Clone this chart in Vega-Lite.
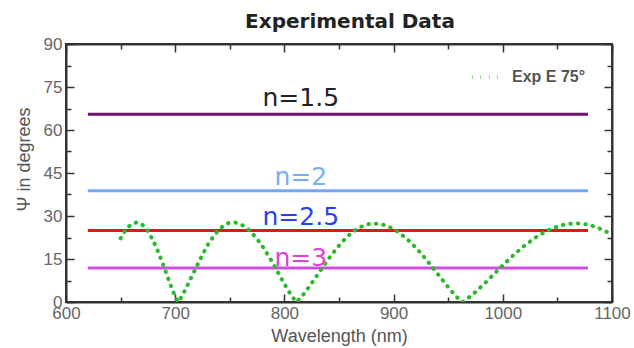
{
  "$schema": "https://vega.github.io/schema/vega-lite/v6.json",
  "width": 546,
  "height": 258,
  "autosize": "none",
  "padding": {"left": 66, "top": 44, "right": 22, "bottom": 46},
  "background": "white",
  "config": {
    "view": {"stroke": "#333", "strokeWidth": 2},
    "axis": {
      "domainColor": "#333", "domainWidth": 2, "tickColor": "#333", "tickWidth": 1.5,
      "grid": false, "labelFont": "Liberation Sans", "labelFontSize": 17, "labelColor": "#666",
      "titleFont": "Liberation Sans", "titleFontSize": 18, "titleFontWeight": "normal", "titleColor": "#555"
    }
  },
  "title": {"text": "Experimental Data", "font": "DejaVu Sans", "fontSize": 20, "fontWeight": "bold", "color": "#222", "anchor": "middle", "dx": 11, "dy": 29, "baseline": "bottom", "offset": 12},
  "datasets": {
    "hlines": [
      {"n": "n=1.5", "wl": 620, "psi": 65.5}, {"n": "n=1.5", "wl": 1078, "psi": 65.5},
      {"n": "n=2", "wl": 620, "psi": 38.8}, {"n": "n=2", "wl": 1078, "psi": 38.8},
      {"n": "n=2.5", "wl": 620, "psi": 24.9}, {"n": "n=2.5", "wl": 1078, "psi": 24.9},
      {"n": "n=3", "wl": 620, "psi": 11.9}, {"n": "n=3", "wl": 1078, "psi": 11.9}
    ],
    "labels": [
      {"label": "n=1.5", "wl": 815, "psi": 68.4},
      {"label": "n=2", "wl": 815, "psi": 40.8},
      {"label": "n=2.5", "wl": 815, "psi": 26.9},
      {"label": "n=3", "wl": 815, "psi": 12.4}
    ],
    "exp": [
      {"wl": 650, "psi": 22.2}, {"wl": 655, "psi": 25.4}, {"wl": 660, "psi": 27.2}, {"wl": 665, "psi": 27.8},
      {"wl": 670, "psi": 26.9}, {"wl": 675, "psi": 24.8}, {"wl": 680, "psi": 21.3}, {"wl": 685, "psi": 17.0},
      {"wl": 690, "psi": 11.9}, {"wl": 695, "psi": 6.7}, {"wl": 700, "psi": 1.8}, {"wl": 702.5, "psi": 0},
      {"wl": 705, "psi": 1.3}, {"wl": 710, "psi": 4.8}, {"wl": 715, "psi": 8.8}, {"wl": 720, "psi": 12.7},
      {"wl": 725, "psi": 16.5}, {"wl": 730, "psi": 20.0}, {"wl": 735, "psi": 22.9}, {"wl": 740, "psi": 25.2},
      {"wl": 745, "psi": 26.9}, {"wl": 750, "psi": 27.7}, {"wl": 755, "psi": 27.7}, {"wl": 760, "psi": 27.1},
      {"wl": 765, "psi": 26.0}, {"wl": 770, "psi": 24.2}, {"wl": 775, "psi": 22.0}, {"wl": 780, "psi": 19.4},
      {"wl": 785, "psi": 16.4}, {"wl": 790, "psi": 13.2}, {"wl": 795, "psi": 9.7}, {"wl": 800, "psi": 6.3},
      {"wl": 805, "psi": 3.1}, {"wl": 810, "psi": 0.4}, {"wl": 811, "psi": 0},
      {"wl": 815, "psi": 1.5}, {"wl": 820, "psi": 3.9}, {"wl": 825, "psi": 6.6}, {"wl": 830, "psi": 9.3},
      {"wl": 835, "psi": 12.1}, {"wl": 840, "psi": 14.8}, {"wl": 845, "psi": 17.3}, {"wl": 850, "psi": 19.7},
      {"wl": 855, "psi": 21.8}, {"wl": 860, "psi": 23.6}, {"wl": 865, "psi": 25.1}, {"wl": 870, "psi": 26.2},
      {"wl": 875, "psi": 27.0}, {"wl": 880, "psi": 27.4}, {"wl": 885, "psi": 27.3}, {"wl": 890, "psi": 27.0},
      {"wl": 895, "psi": 26.4}, {"wl": 900, "psi": 25.4}, {"wl": 905, "psi": 24.2}, {"wl": 910, "psi": 22.7},
      {"wl": 915, "psi": 21.0}, {"wl": 920, "psi": 19.1}, {"wl": 925, "psi": 17.0}, {"wl": 930, "psi": 14.7},
      {"wl": 935, "psi": 12.4}, {"wl": 940, "psi": 10.0}, {"wl": 945, "psi": 7.6}, {"wl": 950, "psi": 5.2},
      {"wl": 955, "psi": 2.9}, {"wl": 960, "psi": 0.9}, {"wl": 963, "psi": 0},
      {"wl": 965, "psi": 0.4}, {"wl": 970, "psi": 1.9}, {"wl": 975, "psi": 3.5}, {"wl": 980, "psi": 5.3},
      {"wl": 985, "psi": 7.1}, {"wl": 990, "psi": 9.0}, {"wl": 995, "psi": 10.9}, {"wl": 1000, "psi": 12.8},
      {"wl": 1005, "psi": 14.6}, {"wl": 1010, "psi": 16.4}, {"wl": 1015, "psi": 18.1}, {"wl": 1020, "psi": 19.7},
      {"wl": 1025, "psi": 21.1}, {"wl": 1030, "psi": 22.5}, {"wl": 1035, "psi": 23.7}, {"wl": 1040, "psi": 24.7},
      {"wl": 1045, "psi": 25.6}, {"wl": 1050, "psi": 26.3}, {"wl": 1055, "psi": 26.9}, {"wl": 1060, "psi": 27.2},
      {"wl": 1065, "psi": 27.4}, {"wl": 1070, "psi": 27.4}, {"wl": 1075, "psi": 27.2}, {"wl": 1080, "psi": 26.8},
      {"wl": 1085, "psi": 26.2}, {"wl": 1090, "psi": 25.4}, {"wl": 1095, "psi": 24.5}, {"wl": 1100, "psi": 23.5}
    ]
  },
  "layer": [
    {
      "data": {"name": "hlines"},
      "mark": {"type": "line", "strokeWidth": 3},
      "encoding": {
        "x": {"field": "wl", "type": "quantitative", "scale": {"domain": [600, 1100], "nice": false, "zero": false},
          "axis": {"orient": "bottom", "title": "Wavelength (nm)", "values": [600, 650, 700, 750, 800, 850, 900, 950, 1000, 1050, 1100],
            "labelExpr": "datum.value % 100 === 0 ? datum.label : ''", "format": "d",
            "tickSize": {"condition": {"test": "datum.value % 100 === 0", "value": -8}, "value": -5},
            "labelPadding": 11, "titlePadding": 6, "labelFlush": false}},
        "y": {"field": "psi", "type": "quantitative", "scale": {"domain": [0, 90], "nice": false},
          "axis": {"orient": "left", "title": "Ψ in degrees", "values": [0, 7.5, 15, 22.5, 30, 37.5, 45, 52.5, 60, 67.5, 75, 82.5, 90],
            "labelExpr": "datum.value % 15 === 0 ? datum.label : ''",
            "tickSize": {"condition": {"test": "datum.value % 15 === 0", "value": -8}, "value": -5},
            "labelPadding": 12, "titlePadding": 10, "titleY": 115, "labelFlush": false}},
        "color": {"field": "n", "type": "nominal", "legend": null,
          "scale": {"domain": ["n=1.5", "n=2", "n=2.5", "n=3"], "range": ["#6e1470", "#6fa8f8", "#e01818", "#d24de8"]}}
      }
    },
    {
      "data": {"name": "exp"},
      "mark": {"type": "line", "strokeWidth": 4, "strokeDash": [0.5, 7], "strokeCap": "round", "clip": true},
      "encoding": {
        "x": {"field": "wl", "type": "quantitative", "scale": {"domain": [600, 1100], "nice": false, "zero": false},
          "axis": {"orient": "top", "title": null, "labels": false, "values": [600, 650, 700, 750, 800, 850, 900, 950, 1000, 1050, 1100],
            "tickSize": {"condition": {"test": "datum.value % 100 === 0", "value": -8}, "value": -5}}},
        "y": {"field": "psi", "type": "quantitative", "scale": {"domain": [0, 90], "nice": false},
          "axis": {"orient": "right", "title": null, "labels": false, "values": [0, 7.5, 15, 22.5, 30, 37.5, 45, 52.5, 60, 67.5, 75, 82.5, 90],
            "tickSize": {"condition": {"test": "datum.value % 15 === 0", "value": -8}, "value": -5}}},
        "color": {"datum": "Exp E 75°", "type": "nominal",
          "scale": {"domain": ["Exp E 75°"], "range": ["#2eb82e"]},
          "legend": {"orient": "none", "legendX": 404, "legendY": 16, "title": null, "padding": 0,
            "symbolType": "stroke", "symbolSize": 900, "symbolStrokeWidth": 4, "symbolDash": [0.5, 8],
            "labelFont": "Liberation Sans", "labelFontSize": 16, "labelFontWeight": "bold", "labelColor": "#555", "labelOffset": 8,
            "symbolOpacity": 1}}
      }
    },
    {
      "data": {"name": "labels"},
      "mark": {"type": "text", "font": "DejaVu Sans", "fontSize": 25, "baseline": "alphabetic", "align": "center"},
      "encoding": {
        "x": {"field": "wl", "type": "quantitative", "scale": {"domain": [600, 1100], "nice": false, "zero": false}, "axis": null},
        "y": {"field": "psi", "type": "quantitative", "scale": {"domain": [0, 90], "nice": false}, "axis": null},
        "text": {"field": "label"},
        "color": {"field": "label", "type": "nominal", "legend": null,
          "scale": {"domain": ["n=1.5", "n=2", "n=2.5", "n=3"], "range": ["#222222", "#7aaef5", "#2b3ff0", "#e040e0"]}}
      }
    }
  ],
  "resolve": {"axis": {"x": "independent", "y": "independent"}, "scale": {"color": "independent"}}
}
